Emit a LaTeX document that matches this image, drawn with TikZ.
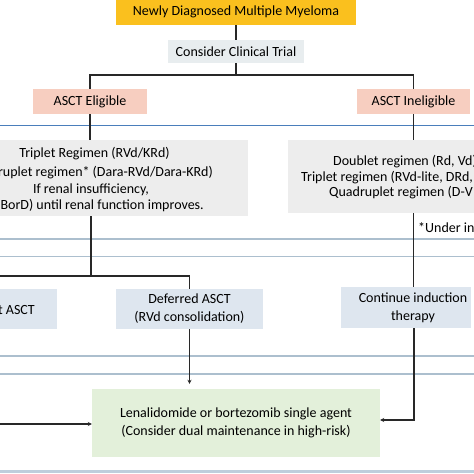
\documentclass[tikz,border=0pt]{standalone}
\usepackage{fontspec}
\setmainfont{Carlito}
\usetikzlibrary{arrows.meta,calc}
\definecolor{cyellow}{RGB}{250,192,30}
\definecolor{cgraytrial}{RGB}{232,237,239}
\definecolor{cpink}{RGB}{247,206,192}
\definecolor{cgraybox}{RGB}{237,237,237}
\definecolor{cbluebox}{RGB}{222,230,239}
\definecolor{cgreen}{RGB}{227,240,218}
\definecolor{cline1}{RGB}{74,126,187}
\definecolor{cline2}{RGB}{172,191,206}
\definecolor{cline3}{RGB}{190,206,220}
\definecolor{cconn}{RGB}{40,40,40}
\tikzset{
  box/.style={inner sep=0pt, align=center, font=\fontsize{14}{18}\selectfont},
  txt/.style={inner sep=0pt, font=\fontsize{14}{16}\selectfont},
  conn/.style={draw=cconn, line width=1.2pt},
  arr/.style={conn, -{Stealth[length=4pt,width=4pt]}},
}
\begin{document}
\begin{tikzpicture}[x=1pt,y=-1pt]
\useasboundingbox (0,0) rectangle (474,474);
\clip (0,0) rectangle (474,474);
% separator lines
\draw[cline1, line width=1pt] (0,125) -- (474,125);
\draw[cline2, line width=2pt] (0,239) -- (474,239);
\draw[cline2, line width=1pt] (0,256.5) -- (474,256.5);
\draw[cline2, line width=1.2pt] (0,356) -- (474,356);
\draw[cline2, line width=2pt] (0,374) -- (474,374);
\draw[cline3, line width=2.5pt] (0,471.5) -- (474,471.5);
% nodes
\node[box, fill=cyellow, minimum width=240, minimum height=26] (top) at (236,12) {Newly Diagnosed Multiple Myeloma};
\node[box, fill=cgraytrial, minimum width=136, minimum height=23] (trial) at (236,51.5) {Consider Clinical Trial};
\node[box, fill=cpink, minimum width=114, minimum height=25] (elig) at (90,101.5) {ASCT Eligible};
\node[box, fill=cpink, minimum width=113, minimum height=25] (inelig) at (413.5,101.5) {ASCT Ineligible};
\node[box, fill=cgraybox, minimum width=258, minimum height=76] (trip) at (119,178) {};
\node[txt] (t1) at (94.5,154) {Triplet Regimen (RVd/KRd)};
\node[txt, anchor=east] (t2) at (213,173) {ruplet regimen* (Dara-RVd/Dara-KRd)};
\node[txt] (t3) at (91,190) {If renal insufficiency,};
\node[txt, anchor=east] (t4) at (204,206) {BorD) until renal function improves.};
\node[box, fill=cgraybox, minimum width=196, minimum height=73] (doub) at (386,176.5) {};
\node[txt, anchor=west] (d1) at (333,162) {Doublet regimen (Rd, Vd)};
\node[txt, anchor=west] (d2) at (301,177.5) {Triplet regimen (RVd-lite, DRd,};
\node[txt, anchor=west] (d3) at (329,193) {Quadruplet regimen (D-V};
\node[txt, anchor=west] (under) at (418,228) {*Under in};
\node[box, fill=cbluebox, minimum width=67, minimum height=40] (upf) at (23.5,309) {};
\node[txt, anchor=east] (upft) at (35,310) {t ASCT};
\node[box, fill=cbluebox, minimum width=147, minimum height=40] (def) at (189.5,309) {Deferred ASCT\\(RVd consolidation)};
\node[box, fill=cbluebox, minimum width=130, minimum height=41] (cont) at (406,307.5) {\hspace*{14pt}Continue induction\\\hspace*{14pt}therapy};
\node[box, fill=cgreen, minimum width=288, minimum height=68] (maint) at (236,423) {Lenalidomide or bortezomib single agent\\(Consider dual maintenance in high-risk)};
% connectors
\coordinate (j1) at (236,75);
\coordinate (j2) at (91,276);
\coordinate (lfree) at (0,276);
\coordinate (lfree2) at (0,424);
\coordinate (rj) at (414,420);
\draw[conn] (top.south) -- (trial.north);
\draw[conn] (trial.south) -- (j1);
\draw[conn] (elig.north) |- (j1) -| (inelig.north);
\draw[conn] (elig.south) -- (elig.south |- trip.north);
\draw[conn] (inelig.south) -- (inelig.south |- doub.north);
\draw[conn] (j2 |- trip.south) -- (j2);
\draw[conn] (lfree) -| (def.north);
\draw[conn] (inelig.south |- doub.south) -- (inelig.south |- cont.north);
\draw[arr] (cont.south -| rj) -- (rj) -- (rj -| maint.east);
\draw[arr, shorten >=5pt] (def.south) -- (def.south |- maint.north);
\draw[arr] (lfree2) -- (lfree2 -| maint.west);
\end{tikzpicture}
\end{document}
